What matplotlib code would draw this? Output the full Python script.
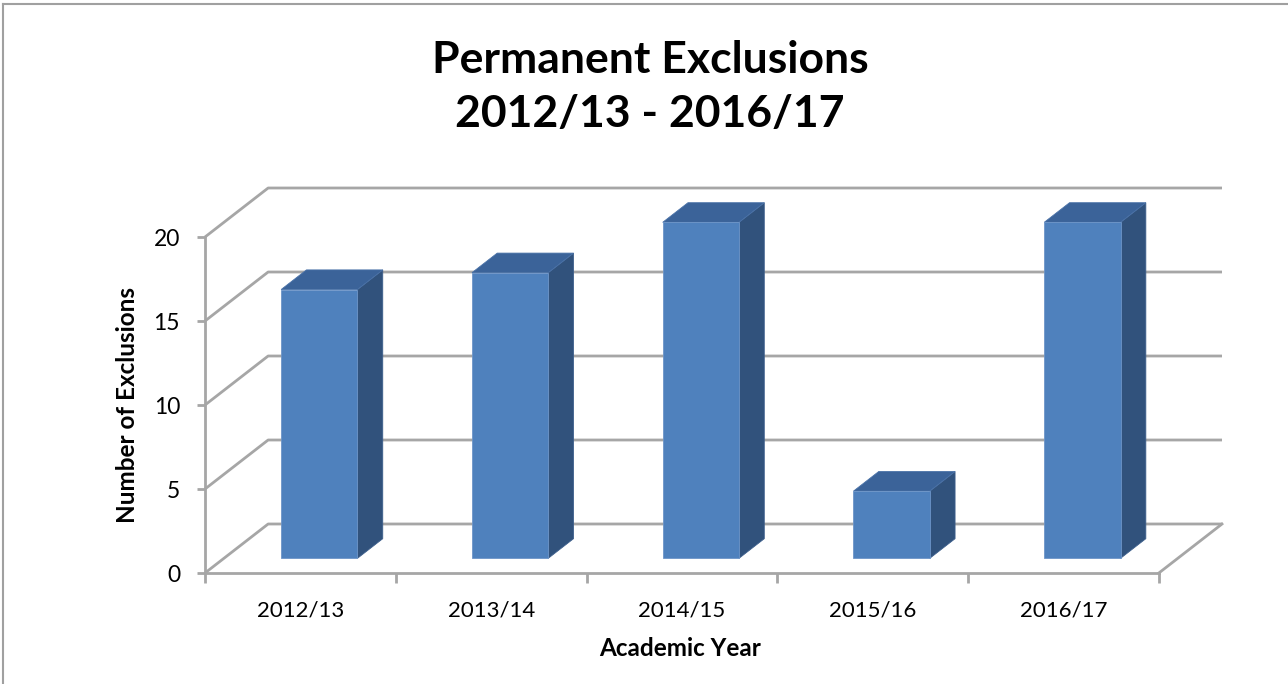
import matplotlib
matplotlib.use("Agg")
import matplotlib.pyplot as plt
from matplotlib.patches import Polygon
from matplotlib.lines import Line2D

# ---- data ----
years = ["2012/13", "2013/14", "2014/15", "2015/16", "2016/17"]
exclusions = [16, 17, 20, 4, 20]
y_ticks = [0, 5, 10, 15, 20]
title = "Permanent Exclusions\n2012/13 - 2016/17"
x_label = "Academic Year"
y_label = "Number of Exclusions"

# ---- style ----
FONT = ["Lato", "DejaVu Sans"]
plt.rcParams["font.family"] = FONT
GRID = "#a6a6a6"
FRONT = "#4f81bd"
SIDE = "#31527c"
TOP = "#3b6399"

# oblique 3D projection offsets (depth 1 -> shift in data units)
DX = 0.331
DY = 2.917


def proj(x, y, d):
    return (x + d * DX, y + d * DY)


W, H = 1288, 684
fig = plt.figure(figsize=(W / 100, H / 100), dpi=100)
ax = fig.add_axes([205 / W, (H - 573) / H, 1017 / W, 385 / H])
n = len(years)
ax.set_xlim(0, n + DX)
ax.set_ylim(0, max(y_ticks) + DY)
for s in ax.spines.values():
    s.set_visible(False)

lw = 2.0
# back wall + left wall gridlines
for t in y_ticks:
    p0 = proj(0, t, 0)
    p1 = proj(0, t, 1)
    p2 = proj(n, t, 1)
    ax.plot([p0[0], p1[0], p2[0]], [p0[1], p1[1], p2[1]], color=GRID, lw=lw,
            clip_on=False, zorder=1, solid_capstyle="butt")
# floor right edge
q0 = proj(n, 0, 0)
q1 = proj(n, 0, 1)
ax.plot([q0[0], q1[0]], [q0[1], q1[1]], color=GRID, lw=lw, clip_on=False, zorder=1)
# front axes lines
ax.plot([0, n], [0, 0], color=GRID, lw=lw, clip_on=False, zorder=1)
ax.plot([0, 0], [0, max(y_ticks)], color=GRID, lw=lw, clip_on=False, zorder=1)

# bars
d0, d1 = 0.3, 0.7
for i, v in enumerate(exclusions):
    x0, x1 = i + 0.3, i + 0.7
    front = [proj(x0, 0, d0), proj(x1, 0, d0), proj(x1, v, d0), proj(x0, v, d0)]
    side = [proj(x1, 0, d0), proj(x1, 0, d1), proj(x1, v, d1), proj(x1, v, d0)]
    top = [proj(x0, v, d0), proj(x1, v, d0), proj(x1, v, d1), proj(x0, v, d1)]
    ax.add_patch(Polygon(side, closed=True, facecolor=SIDE, edgecolor="#3d5f8c", lw=0.6, zorder=3))
    ax.add_patch(Polygon(top, closed=True, facecolor=TOP, edgecolor="#4a72a8", lw=0.6, zorder=3))
    ax.add_patch(Polygon(front, closed=True, facecolor=FRONT, edgecolor="#6d95c8", lw=0.6, zorder=4))

# ticks
ax.set_yticks(y_ticks)
ax.set_yticklabels([str(t) for t in y_ticks])
ax.set_xticks(range(n + 1))
ax.set_xticklabels([""] * (n + 1))
ax.set_xticks([i + 0.5 for i in range(n)], minor=True)
ax.set_xticklabels(years, minor=True)
ax.tick_params(axis="y", which="major", length=6, width=lw, color=GRID,
               labelsize=16.5, pad=12, labelcolor="black")
ax.tick_params(axis="x", which="major", length=7, width=lw, color=GRID)
ax.tick_params(axis="x", which="minor", length=0, labelsize=16, pad=20,
               labelcolor="black")

# labels and title
fig.text(128 / W, 1 - 405 / H, y_label, rotation=90, ha="center", va="center",
         fontsize=17.5, fontweight="bold")
fig.text(680 / W, 1 - 648 / H, x_label, ha="center", va="center",
         fontsize=17.5, fontweight="bold")
fig.text(650 / W, 1 - 87 / H, title, ha="center", va="center",
         fontsize=32, fontweight="bold", linespacing=1.4)

# chart frame (top and left edges visible)
fig.add_artist(Line2D([3 / W, 3 / W], [0, 1 - 4 / H], color="#a0a0a0", lw=1.5,
                      transform=fig.transFigure))
fig.add_artist(Line2D([3 / W, 1], [1 - 4 / H, 1 - 4 / H], color="#a0a0a0", lw=1.5,
                      transform=fig.transFigure))

fig.savefig("out.png", dpi=100, facecolor="white")
